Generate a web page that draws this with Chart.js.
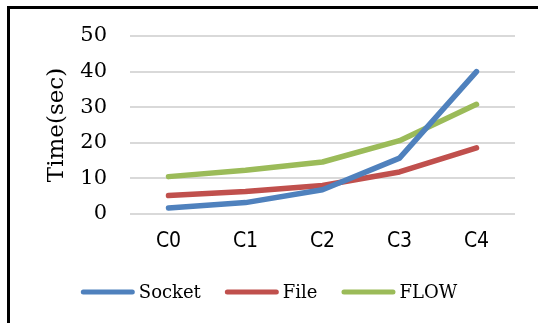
<!DOCTYPE html>
<html>
<head>
<meta charset="utf-8">
<script src="https://cdn.jsdelivr.net/npm/chart.js@4/dist/chart.umd.min.js"></script>
<style>
  html, body { margin: 0; padding: 0; background: #fff; }
  #wrap { position: relative; width: 538px; height: 323px; overflow: hidden; }
  #frame { position: absolute; left: 7px; top: 6px; width: 600px; height: 400px;
           border: 3px solid #000; box-sizing: border-box; pointer-events: none; }
  canvas { position: absolute; left: 0; top: 0; }
</style>
</head>
<body>
<div id="wrap">
  <canvas id="c" width="538" height="323"></canvas>
  <div id="frame"></div>
</div>
<script>
const categories = ['C0', 'C1', 'C2', 'C3', 'C4'];
const socketTimes = [1.7, 3.2, 6.8, 15.7, 40.0];
const fileTimes = [5.2, 6.3, 8.0, 11.8, 18.6];
const flowTimes = [10.5, 12.3, 14.6, 20.6, 30.8];
const yTicks = [0, 10, 20, 30, 40, 50];

const serif = "'DejaVu Serif', 'Liberation Serif', serif";
const narrow = "'DejaVu Sans Condensed', 'Liberation Sans Narrow', sans-serif";

function series(label, data, color) {
  return {
    label, data,
    borderColor: color, backgroundColor: color,
    borderWidth: 5.5, borderCapStyle: 'round', borderJoinStyle: 'round',
    pointRadius: 0, pointHoverRadius: 0, tension: 0, fill: false
  };
}

// Legend drawn below the axis: short round-capped line, then the series name.
const bottomLegend = {
  id: 'bottomLegend',
  afterDraw(chart) {
    const ctx = chart.ctx;
    const sample = 54, gapText = 4, gapItem = 24, y = 292;
    ctx.save();
    ctx.font = '18px ' + serif;
    ctx.textBaseline = 'middle';
    const items = chart.data.datasets.map(ds => ({
      ds, w: sample + gapText + ctx.measureText(ds.label).width
    }));
    const total = items.reduce((a, it) => a + it.w, 0) + gapItem * (items.length - 1);
    let x = chart.width / 2 - total / 2;
    items.forEach(it => {
      ctx.strokeStyle = it.ds.borderColor;
      ctx.lineWidth = 5;
      ctx.lineCap = 'round';
      ctx.beginPath();
      ctx.moveTo(x + 2.5, y);
      ctx.lineTo(x + sample - 2.5, y);
      ctx.stroke();
      ctx.fillStyle = '#000';
      ctx.fillText(it.ds.label, x + sample + gapText, y + 1);
      x += it.w + gapItem;
    });
    ctx.restore();
  }
};

new Chart(document.getElementById('c'), {
  type: 'line',
  data: {
    labels: categories,
    datasets: [
      series('Socket', socketTimes, '#4F81BD'),
      series('File', fileTimes, '#C0504D'),
      series('FLOW', flowTimes, '#9BBB59')
    ]
  },
  plugins: [bottomLegend],
  options: {
    responsive: false,
    animation: false,
    devicePixelRatio: 1,
    layout: { padding: { left: 40, right: 23, top: 36, bottom: 59 } },
    scales: {
      x: {
        offset: true,
        afterFit: s => { s.height = 50; },
        grid: { display: false, drawTicks: false },
        border: { display: false },
        ticks: { color: '#000', font: { family: narrow, size: 21 }, padding: 15 }
      },
      y: {
        min: 0, max: 50,
        afterBuildTicks: s => { s.ticks = yTicks.map(v => ({ value: v })); },
        afterFit: s => { s.width = 90; },
        grid: { color: '#d9d9d9', lineWidth: 2, drawTicks: false },
        border: { display: false },
        ticks: { color: '#000', font: { family: serif, size: 21 }, padding: 23 },
        title: { display: true, text: 'Time(sec)', color: '#000',
                 font: { family: serif, size: 23 }, padding: { top: 3, bottom: 0 } }
      }
    },
    plugins: {
      tooltip: { enabled: false },
      legend: { display: false }
    }
  }
});
</script>
</body>
</html>
